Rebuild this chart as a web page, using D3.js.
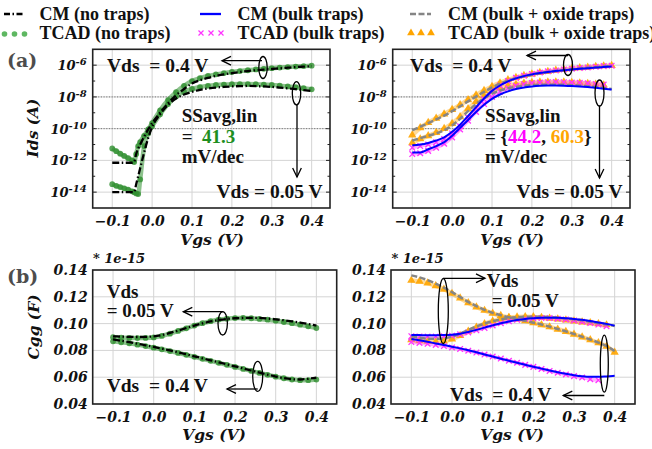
<!DOCTYPE html>
<html>
<head>
<meta charset="utf-8">
<script src="https://cdn.jsdelivr.net/npm/d3@7"></script>
<style>
  body { margin: 0; background: #fff; }
  svg { display: block; }
  .tick text { font-family: "DejaVu Serif"; font-weight: bold; font-style: italic; fill: #111; }
  .ann { font-family: "Liberation Serif"; font-weight: bold; fill: #111; white-space: pre; }
</style>
</head>
<body>
<svg id="chart" width="652" height="449"></svg>
<script>
// ---- data ----
// (a) left: Ids, stored as log10(A)
const vgsFine = [-0.1, -0.09, -0.08, -0.07, -0.06, -0.05, -0.045, -0.04, -0.035, -0.03, -0.02, -0.01,
  0, 0.02, 0.04, 0.06, 0.08, 0.1, 0.12, 0.14, 0.16, 0.18, 0.2, 0.22, 0.24, 0.26, 0.28, 0.3, 0.32, 0.34, 0.36, 0.38, 0.4];
const logIdsCmNoTrap04 = [-12.15, -12.15, -12.15, -12.15, -12.15, -12.15, -12.1, -11.6, -11.25, -11.0, -10.5, -10.05,
  -9.65, -9.0, -8.4, -7.9, -7.5, -7.15, -6.95, -6.8, -6.68, -6.58, -6.5, -6.43, -6.37, -6.32, -6.28, -6.24, -6.2, -6.16, -6.12, -6.09, -6.06];
const logIdsCmNoTrap005 = [-14.0, -14.0, -14.0, -14.0, -14.0, -14.0, -14.0, -13.5, -13.0, -12.5, -11.5, -10.6,
  -9.9, -9.1, -8.5, -8.1, -7.85, -7.68, -7.55, -7.47, -7.41, -7.37, -7.34, -7.32, -7.31, -7.32, -7.34, -7.37, -7.41, -7.46, -7.51, -7.57, -7.63];
const logIdsTcadNoTrap04 = [-11.25, -11.42, -11.58, -11.72, -11.86, -12.0, -12.1, -11.6, -11.1, -10.85, -10.45, -10.05,
  -9.65, -8.85, -8.2, -7.7, -7.3, -7.0, -6.82, -6.68, -6.58, -6.5, -6.43, -6.37, -6.32, -6.27, -6.23, -6.19, -6.15, -6.12, -6.09, -6.06, -6.03];
const logIdsTcadNoTrap005 = [-13.5, -13.6, -13.68, -13.76, -13.84, -13.95, -14.0, -14.08, -14.12, -13.2, -11.1, -10.3,
  -9.85, -9.1, -8.45, -7.98, -7.68, -7.5, -7.38, -7.3, -7.25, -7.22, -7.2, -7.19, -7.19, -7.2, -7.22, -7.25, -7.29, -7.34, -7.39, -7.45, -7.52];

// (a) right and (b): common Vgs grid
const vgs = [-0.1, -0.08, -0.06, -0.04, -0.02, 0, 0.02, 0.04, 0.06, 0.08, 0.1, 0.12, 0.14,
  0.16, 0.18, 0.2, 0.22, 0.24, 0.26, 0.28, 0.3, 0.32, 0.34, 0.36, 0.38, 0.4];
const logIdsCmBulk04 = [-11.05, -11.0, -10.9, -10.75, -10.55, -10.2, -9.75, -9.2, -8.65, -8.1, -7.62, -7.28, -7.02,
  -6.83, -6.69, -6.58, -6.5, -6.43, -6.37, -6.32, -6.27, -6.23, -6.19, -6.15, -6.12, -6.09];
const logIdsCmBulk005 = [-11.5, -11.5, -11.3, -11.1, -10.85, -10.45, -9.95, -9.45, -8.95, -8.5, -8.12, -7.85, -7.65,
  -7.5, -7.4, -7.34, -7.3, -7.28, -7.28, -7.29, -7.31, -7.34, -7.38, -7.43, -7.48, -7.53];
const logIdsTcadBulk04 = [-11.2, -11.1, -11.0, -10.85, -10.65, -10.3, -9.85, -9.3, -8.7, -8.15, -7.65, -7.28, -7.0,
  -6.8, -6.66, -6.55, -6.46, -6.39, -6.33, -6.27, -6.22, -6.18, -6.14, -6.1, -6.06, -6.03];
const logIdsTcadBulk005 = [-11.6, -11.55, -11.4, -11.2, -10.95, -10.55, -10.05, -9.5, -8.95, -8.45, -8.0, -7.68, -7.45,
  -7.3, -7.2, -7.13, -7.09, -7.07, -7.06, -7.07, -7.09, -7.11, -7.14, -7.18, -7.22, null];
const logIdsCmOx04 = [-10.1, -9.88, -9.65, -9.42, -9.18, -8.9, -8.6, -8.28, -7.98, -7.68, -7.4, -7.17, -6.98,
  -6.82, -6.7, -6.6, -6.51, -6.43, -6.37, -6.31, -6.26, -6.21, -6.17, -6.13, -6.09, -6.06];
const logIdsCmOx005 = [-10.75, -10.6, -10.45, -10.3, -10.1, -9.8, -9.38, -8.9, -8.45, -8.08, -7.8, -7.6, -7.46,
  -7.37, -7.3, -7.26, -7.24, -7.23, -7.23, -7.24, -7.26, -7.29, -7.33, -7.38, -7.44, -7.5];
const logIdsTcadOx04 = [-10.4, -9.95, -9.62, -9.35, -9.08, -8.8, -8.5, -8.18, -7.88, -7.6, -7.34, -7.12, -6.93,
  -6.78, -6.66, -6.56, -6.47, -6.4, -6.33, -6.27, -6.22, -6.17, -6.13, -6.09, -6.05, -6.02];
const logIdsTcadOx005 = [-10.9, -10.65, -10.45, -10.25, -10.0, -9.68, -9.25, -8.75, -8.3, -7.93, -7.65, -7.45, -7.3,
  -7.2, -7.13, -7.09, -7.07, -7.06, -7.06, -7.07, -7.09, -7.12, -7.16, -7.2, -7.26, null];

// (b) Cgg in units of 1e-15 F
const cggCmNoTrap005 = [0.0905, 0.0903, 0.0901, 0.09, 0.0901, 0.0905, 0.0915, 0.093, 0.0948, 0.0967, 0.0985, 0.1002, 0.1016,
  0.1027, 0.1035, 0.104, 0.1042, 0.1043, 0.1042, 0.1038, 0.1032, 0.1025, 0.1017, 0.1008, 0.0997, 0.0985];
const cggTcadNoTrap005 = [0.0898, 0.0895, 0.0893, 0.0892, 0.0893, 0.0897, 0.0908, 0.0925, 0.0945, 0.0965, 0.0985, 0.1003, 0.1018,
  0.103, 0.1037, 0.1041, 0.1042, 0.104, 0.1035, 0.1029, 0.1021, 0.1012, 0.1003, 0.0992, 0.098, 0.0967];
const cggCmNoTrap04 = [0.0882, 0.0872, 0.0861, 0.085, 0.0838, 0.0826, 0.0813, 0.08, 0.0786, 0.0771, 0.0756, 0.0741, 0.0726,
  0.0711, 0.0696, 0.0681, 0.0666, 0.065, 0.0634, 0.0619, 0.0605, 0.0593, 0.0585, 0.0583, 0.0588, 0.0597];
const cggTcadNoTrap04 = [0.0868, 0.0861, 0.0853, 0.0843, 0.0832, 0.082, 0.0808, 0.0795, 0.0781, 0.0767, 0.0752, 0.0737, 0.0722,
  0.0707, 0.0692, 0.0677, 0.0662, 0.0647, 0.0632, 0.0618, 0.0604, 0.0592, 0.0583, 0.0578, 0.0578, 0.0582];
const cggCmBulkUp = [0.0915, 0.0914, 0.0913, 0.0913, 0.0914, 0.0917, 0.0925, 0.0938, 0.0953, 0.097, 0.0987, 0.1003, 0.1016,
  0.1027, 0.1035, 0.104, 0.1043, 0.1044, 0.1043, 0.104, 0.1035, 0.1028, 0.1019, 0.1009, 0.0998, 0.0985];
const cggCmBulkDown = [0.0885, 0.0875, 0.0864, 0.0852, 0.084, 0.0828, 0.0815, 0.0801, 0.0786, 0.077, 0.0754, 0.0738, 0.0723,
  0.0708, 0.0693, 0.0678, 0.0664, 0.065, 0.0637, 0.0625, 0.0615, 0.0607, 0.0603, 0.0603, 0.0606, 0.061];
const cggTcadBulkUp = [0.0906, 0.0904, 0.0903, 0.0903, 0.0905, 0.091, 0.092, 0.0934, 0.095, 0.0968, 0.0986, 0.1003, 0.1017,
  0.1028, 0.1036, 0.104, 0.1042, 0.1041, 0.1037, 0.1031, 0.1023, 0.1014, 0.1004, 0.0993, 0.098, null];
const cggTcadBulkDown = [0.0862, 0.0856, 0.0849, 0.0841, 0.0832, 0.0822, 0.0811, 0.0798, 0.0784, 0.0769, 0.0754, 0.0739, 0.0723,
  0.0708, 0.0692, 0.0677, 0.0662, 0.0647, 0.0633, 0.062, 0.0608, 0.0598, 0.0585, 0.0578, null, null];
const cggCmOxDown = [0.136, 0.1345, 0.1325, 0.1298, 0.1268, 0.1235, 0.1198, 0.1162, 0.113, 0.1103, 0.108, 0.1062, 0.1047,
  0.1034, 0.1021, 0.1007, 0.0993, 0.0977, 0.096, 0.0942, 0.0922, 0.0902, 0.0881, 0.0858, 0.0832, 0.0795];
const cggCmOxUp = [0.0905, 0.0895, 0.0888, 0.0886, 0.089, 0.0903, 0.0925, 0.0952, 0.0978, 0.1, 0.1018, 0.1032, 0.1042,
  0.1048, 0.1051, 0.1052, 0.1051, 0.1048, 0.1044, 0.1039, 0.1032, 0.1024, 0.1014, 0.1004, 0.0993, 0.0982];
const cggTcadOxDown = [0.1322, 0.1315, 0.1302, 0.1282, 0.1256, 0.1225, 0.119, 0.1155, 0.1124, 0.1098, 0.1077, 0.106, 0.1046,
  0.1033, 0.102, 0.1006, 0.0991, 0.0975, 0.0958, 0.094, 0.092, 0.09, 0.0879, 0.0856, 0.083, 0.0785];
const cggTcadOxUp = [0.0878, 0.0872, 0.0867, 0.0865, 0.087, 0.0885, 0.091, 0.0942, 0.0972, 0.0998, 0.1018, 0.1033, 0.1043,
  0.1049, 0.1051, 0.105, 0.1046, 0.104, 0.1033, 0.1026, 0.1019, 0.1012, 0.1005, 0.0998, 0.099, null];

const xTicks = [-0.1, 0, 0.1, 0.2, 0.3, 0.4];
const idsTicks = [1e-6, 1e-8, 1e-10, 1e-12, 1e-14];
const cggTicks = [0.04, 0.06, 0.08, 0.10, 0.12, 0.14];

// ---- drawing ----
const svg = d3.select("#chart");
const serif = "DejaVu Serif";
const times = "Liberation Serif";

const colGreen = "#2f8f2f", colPink = "#ff33ff", colOrange = "#ffa500",
      colBlue = "#0000ff", colGrey = "#858585";

function makePanel(left, right, top, bottom, xDomain, logY) {
  let x = d3.scaleLinear().domain(xDomain).range([left, right]);
  let y = logY
    ? d3.scaleLog().domain([1e-15, 1e-5]).range([bottom, top])
    : d3.scaleLinear().domain([0.04, 0.14]).range([bottom, top]);
  let yTicks = logY ? idsTicks : cggTicks;
  let g = svg.append("g");

  // grid
  g.selectAll(".vgrid").data(xTicks).join("line")
    .attr("x1", d => x(d)).attr("x2", d => x(d))
    .attr("y1", top).attr("y2", bottom)
    .attr("stroke", "#d4d4d4").attr("stroke-width", 1);
  g.selectAll(".hgrid").data(yTicks).join("line")
    .attr("x1", left).attr("x2", right)
    .attr("y1", d => y(d)).attr("y2", d => y(d))
    .attr("stroke", "#d4d4d4").attr("stroke-width", 1);

  // x axis
  let xa = g.append("g").attr("transform", `translate(0,${bottom})`)
    .call(d3.axisBottom(x).tickValues(xTicks).tickFormat(d3.format(".1f")).tickSize(0).tickPadding(8.5));
  xa.select(".domain").remove();
  xa.selectAll("text").attr("font-size", 14);

  // y axis
  let ya = g.append("g").attr("transform", `translate(${left},0)`);
  if (logY) {
    ya.call(d3.axisLeft(y).tickValues(idsTicks).tickFormat("").tickSize(0));
    ya.selectAll(".tick").append("text")
      .attr("x", -6).attr("y", 4.5).attr("text-anchor", "end")
      .attr("font-size", 13).attr("fill", "#111")
      .each(function (d) {
        let t = d3.select(this);
        t.append("tspan").text("10");
        t.append("tspan").attr("dy", -5).attr("font-size", 10).text(String(Math.round(Math.log10(d))));
      });
    // small inward ticks on both spines
    let minor = d3.range(-14, -5).map(e => Math.pow(10, e));
    [left, right].forEach(sx => {
      let dir = sx === left ? 1 : -1;
      g.selectAll(null).data(minor).join("line")
        .attr("x1", sx).attr("x2", d => sx + dir * (Math.round(Math.log10(d)) % 2 === 0 ? 4 : 2.5))
        .attr("y1", d => y(d)).attr("y2", d => y(d))
        .attr("stroke", "#222").attr("stroke-width", 1);
    });
  } else {
    ya.call(d3.axisLeft(y).tickValues(cggTicks).tickFormat(d3.format(".2f")).tickSize(0).tickPadding(5));
    ya.selectAll("text").attr("font-size", 14);
  }
  ya.select(".domain").remove();

  return { g, x, y, left, right, top, bottom };
}

function frame(p) {
  p.g.append("rect")
    .attr("x", p.left).attr("y", p.top)
    .attr("width", p.right - p.left).attr("height", p.bottom - p.top)
    .attr("fill", "none").attr("stroke", "#222").attr("stroke-width", 1.6);
}

function pts(xs, ys, logY) {
  return xs.map((v, i) => [v, ys[i] == null ? null : (logY ? Math.pow(10, ys[i]) : ys[i])]);
}

function drawLine(p, data, color, width, dash) {
  let line = d3.line().defined(d => d[1] != null)
    .x(d => p.x(d[0])).y(d => p.y(d[1])).curve(d3.curveMonotoneX);
  return p.g.append("path").datum(data)
    .attr("d", line).attr("fill", "none")
    .attr("stroke", color).attr("stroke-width", width)
    .attr("stroke-dasharray", dash || null);
}

function drawMarkers(p, data, kind) {
  let d0 = data.filter(d => d[1] != null);
  // faint band behind the markers (TCAD points are very dense in the original)
  let col = kind === "dot" ? colGreen : kind === "x" ? colPink : colOrange;
  drawLine(p, d0, col, kind === "x" ? 3.5 : 4.5, null)
    .attr("stroke-opacity", kind === "dot" ? 0.55 : 0.4);
  let sel = p.g.append("g").selectAll("g").data(d0).join("g")
    .attr("transform", d => `translate(${p.x(d[0])},${p.y(d[1])})`);
  if (kind === "dot") {
    sel.append("circle").attr("r", 2.9).attr("fill", colGreen).attr("fill-opacity", 0.8);
  } else if (kind === "x") {
    sel.append("path").attr("d", "M-2.8,-2.8L2.8,2.8M-2.8,2.8L2.8,-2.8")
      .attr("stroke", colPink).attr("stroke-width", 1.3);
  } else {
    sel.append("path").attr("d", d3.symbol(d3.symbolTriangle, 30)())
      .attr("fill", colOrange).attr("fill-opacity", 0.9);
  }
}

const dashDot = "7,2.5,1.5,2.5";
const greyDash = "6,2.5";

// ---- (a) left ----
let pA1 = makePanel(92.7, 330, 49.3, 208, [-0.149, 0.446], true);
[1e-8, 1e-10].forEach(v => pA1.g.append("line")
  .attr("x1", pA1.left).attr("x2", pA1.right).attr("y1", pA1.y(v)).attr("y2", pA1.y(v))
  .attr("stroke", "#777").attr("stroke-dasharray", "1.2,1.5"));
drawMarkers(pA1, pts(vgsFine, logIdsTcadNoTrap04, true), "dot");
drawMarkers(pA1, pts(vgsFine, logIdsTcadNoTrap005, true), "dot");
drawLine(pA1, pts(vgsFine, logIdsCmNoTrap04, true), "#000", 2.3, dashDot);
drawLine(pA1, pts(vgsFine, logIdsCmNoTrap005, true), "#000", 2.3, dashDot);
frame(pA1);

// ---- (a) right ----
let pA2 = makePanel(392.7, 630, 49.3, 208, [-0.149, 0.446], true);
pA2.g.append("line").attr("x1", pA2.left).attr("x2", 507).attr("y1", pA2.y(1e-8)).attr("y2", pA2.y(1e-8))
  .attr("stroke", "#777").attr("stroke-dasharray", "1.2,1.5");
pA2.g.append("line").attr("x1", pA2.left).attr("x2", 478).attr("y1", pA2.y(1e-10)).attr("y2", pA2.y(1e-10))
  .attr("stroke", "#777").attr("stroke-dasharray", "1.2,1.5");
drawMarkers(pA2, pts(vgs, logIdsTcadOx04, true), "tri");
drawMarkers(pA2, pts(vgs, logIdsTcadOx005, true), "tri");
drawMarkers(pA2, pts(vgs, logIdsTcadBulk04, true), "x");
drawMarkers(pA2, pts(vgs, logIdsTcadBulk005, true), "x");
drawLine(pA2, pts(vgs, logIdsCmOx04, true), colGrey, 2.5, greyDash);
drawLine(pA2, pts(vgs, logIdsCmOx005, true), colGrey, 2.5, greyDash);
drawLine(pA2, pts(vgs, logIdsCmBulk04, true), colBlue, 2, null);
drawLine(pA2, pts(vgs, logIdsCmBulk005, true), colBlue, 2, null);
frame(pA2);

// ---- (b) left ----
let pB1 = makePanel(92.7, 336.7, 270, 404, [-0.15, 0.45], false);
drawMarkers(pB1, pts(vgs, cggTcadNoTrap005, false), "dot");
drawMarkers(pB1, pts(vgs, cggTcadNoTrap04, false), "dot");
drawLine(pB1, pts(vgs, cggCmNoTrap005, false), "#000", 2.3, dashDot);
drawLine(pB1, pts(vgs, cggCmNoTrap04, false), "#000", 2.3, dashDot);
frame(pB1);

// ---- (b) right ----
let pB2 = makePanel(391, 635, 270, 404, [-0.15, 0.45], false);
drawMarkers(pB2, pts(vgs, cggTcadOxDown, false), "tri");
drawMarkers(pB2, pts(vgs, cggTcadOxUp, false), "tri");
drawMarkers(pB2, pts(vgs, cggTcadBulkUp, false), "x");
drawMarkers(pB2, pts(vgs, cggTcadBulkDown, false), "x");
drawLine(pB2, pts(vgs, cggCmOxDown, false), colGrey, 2.5, greyDash);
drawLine(pB2, pts(vgs, cggCmOxUp, false), colGrey, 2.5, greyDash);
drawLine(pB2, pts(vgs, cggCmBulkUp, false), colBlue, 2, null);
drawLine(pB2, pts(vgs, cggCmBulkDown, false), colBlue, 2, null);
frame(pB2);

// ---- axis titles ----
function italicLabel(x, y, txt, rot) {
  svg.append("text").attr("transform", `translate(${x},${y})` + (rot ? " rotate(-90)" : ""))
    .attr("text-anchor", "middle").attr("font-family", serif).attr("font-weight", "bold")
    .attr("font-style", "italic").attr("font-size", 15.5).attr("fill", "#111").text(txt);
}
italicLabel(212, 245, "Vgs (V)");
italicLabel(512, 245, "Vgs (V)");
italicLabel(214, 440, "Vgs (V)");
italicLabel(512, 440, "Vgs (V)");
italicLabel(38, 128, "Ids (A)", true);
italicLabel(39, 327, "Cgg (F)", true);

[[93, 263], [391.5, 263]].forEach(([x, y]) => svg.append("text")
  .attr("x", x).attr("y", y).attr("font-family", serif).attr("font-weight", "bold")
  .attr("font-style", "italic").attr("font-size", 13).attr("fill", "#111").text("* 1e-15"));

svg.append("text").attr("x", 7).attr("y", 67).attr("font-family", serif).attr("font-weight", "bold")
  .attr("font-size", 19).attr("fill", "#4d4d4d").text("(a)");
svg.append("text").attr("x", 7).attr("y", 283).attr("font-family", serif).attr("font-weight", "bold")
  .attr("font-size", 19).attr("fill", "#4d4d4d").text("(b)");

// ---- annotations ----
function ann(x, y, parts, size) {
  let t = svg.append("text").attr("class", "ann").attr("x", x).attr("y", y)
    .attr("font-size", size || 19.5);
  (Array.isArray(parts) ? parts : [[parts, "#111"]]).forEach(([s, c]) => t.append("tspan").attr("fill", c).text(s));
}
function ellipse(cx, cy, rx, ry) {
  svg.append("ellipse").attr("cx", cx).attr("cy", cy).attr("rx", rx).attr("ry", ry)
    .attr("fill", "none").attr("stroke", "#000").attr("stroke-width", 1.3);
}
function arrow(x1, y1, x2, y2) {
  svg.append("line").attr("x1", x1).attr("y1", y1).attr("x2", x2).attr("y2", y2)
    .attr("stroke", "#000").attr("stroke-width", 1.3);
  let a = Math.atan2(y2 - y1, x2 - x1), L = 10, w = 0.45;
  let p1 = [x2 - L * Math.cos(a - w), y2 - L * Math.sin(a - w)];
  let p2 = [x2 - L * Math.cos(a + w), y2 - L * Math.sin(a + w)];
  svg.append("path").attr("d", `M${p1}L${x2},${y2}L${p2}`)
    .attr("fill", "none").attr("stroke", "#000").attr("stroke-width", 1.3);
}

// (a) left
ann(107, 71.5, "Vds  = 0.4 V");
ellipse(263, 67.5, 4.2, 11);
arrow(262, 60.7, 222, 60.7);
ellipse(296.5, 93.3, 4.2, 11.7);
arrow(297, 105, 297, 177);
ann(216.5, 198, "Vds = 0.05 V");
ann(181.7, 121.7, "SSavg,lin", 19);
ann(181.7, 143, [["=  ", "#111"], ["41.3", "#1f8f1f"]], 19);
ann(181.7, 163, "mV/dec", 19);

// (a) right
ann(410, 71.5, "Vds  = 0.4 V");
ellipse(568, 65, 4.5, 10.5);
arrow(568, 55.5, 527, 55.5);
ellipse(599.5, 93, 4.5, 13);
arrow(599.5, 106, 599.5, 178);
ann(516.5, 198.3, "Vds = 0.05 V");
ann(485, 121.7, "SSavg,lin", 19);
ann(485, 143, [["= {", "#111"], ["44.2", "#ff00ff"], [", ", "#111"], ["60.3", "#ffa500"], ["}", "#111"]], 19);
ann(485, 163, "mV/dec", 19);

// (b) left
ann(106.7, 298, "Vds", 19);
ann(106.7, 316.7, "= 0.05 V", 19);
ellipse(222.7, 323.3, 4.7, 11.7);
arrow(223, 311.7, 183.3, 311.7);
ann(106.7, 391.7, "Vds  = 0.4 V");
ellipse(257.7, 376.3, 5, 15);
arrow(257.7, 389, 227, 389);

// (b) right
ellipse(443.3, 311, 5, 32.5);
arrow(443.3, 278.3, 485, 278.3);
ann(486.7, 286.7, "Vds", 19);
ann(491.7, 306.7, "= 0.05 V", 19);
ellipse(604.3, 363.7, 4, 28.5);
arrow(604.3, 395.5, 563.3, 395.5);
ann(450, 400.5, "Vds  = 0.4 V");

// ---- legend ----
const lg = svg.append("g");
function legText(x, y, s) {
  lg.append("text").attr("x", x).attr("y", y).attr("font-family", times).attr("font-weight", "bold")
    .attr("font-size", 18).attr("fill", "#111").text(s);
}
const row1 = 14, row2 = 33;
lg.append("line").attr("x1", 4).attr("x2", 25).attr("y1", row1).attr("y2", row1)
  .attr("stroke", "#000").attr("stroke-width", 2.3).attr("stroke-dasharray", "6,2.5,1.5,2.5");
legText(39.6, 20, "CM (no traps)");
lg.append("line").attr("x1", 200).attr("x2", 221).attr("y1", row1).attr("y2", row1)
  .attr("stroke", colBlue).attr("stroke-width", 2.3);
legText(237.5, 20, "CM (bulk traps)");
lg.append("line").attr("x1", 410).attr("x2", 431).attr("y1", row1).attr("y2", row1)
  .attr("stroke", colGrey).attr("stroke-width", 2.3).attr("stroke-dasharray", "6,2.5");
legText(448, 20, "CM (bulk + oxide traps)");

[4.5, 14.5, 24.5].forEach(x => lg.append("circle").attr("cx", x).attr("cy", row2 + 1).attr("r", 2.8)
  .attr("fill", "#4caf50").attr("fill-opacity", 0.9));
legText(39.6, 39, "TCAD (no traps)");
[201, 211, 221].forEach(x => lg.append("path").attr("transform", `translate(${x},${row2})`)
  .attr("d", "M-2.5,-2.5L2.5,2.5M-2.5,2.5L2.5,-2.5").attr("stroke", colPink).attr("stroke-width", 1.2));
legText(237.5, 39, "TCAD (bulk traps)");
[411, 421, 431].forEach(x => lg.append("path").attr("transform", `translate(${x},${row2})`)
  .attr("d", d3.symbol(d3.symbolTriangle, 26)()).attr("fill", colOrange));
legText(448, 39, "TCAD (bulk + oxide traps)");
</script>
</body>
</html>
